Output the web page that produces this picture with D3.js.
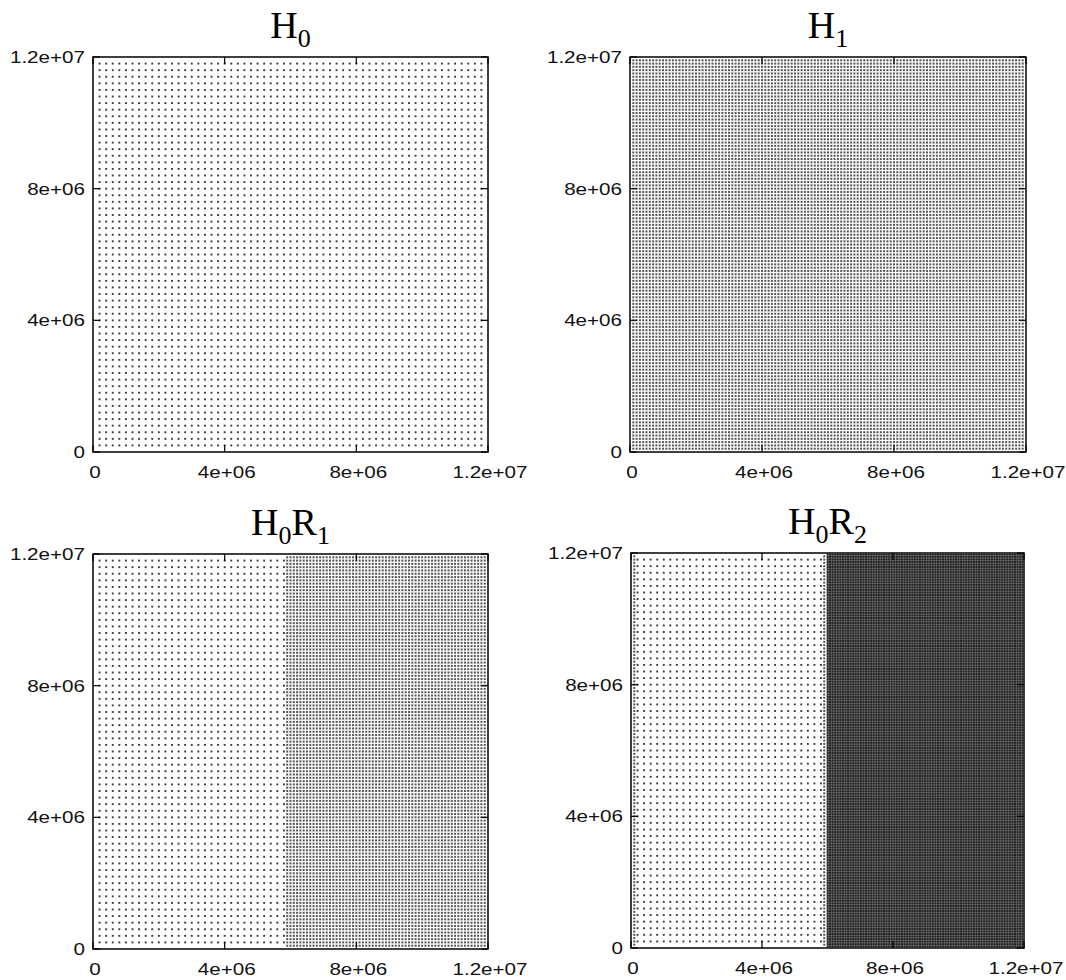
<!DOCTYPE html>
<html lang="en">
<head>
    <meta charset="UTF-8">
    <title>Mesh nodes H0 / H1 / H0R1 / H0R2</title>
    <script src="https://d3js.org/d3.v7.min.js"></script>
    <style>
        body { margin: 0; background: #fff; }
        svg { display: block; }
        .tick-label { font-family: "Liberation Sans", Arial, sans-serif; font-size: 16.5px; fill: #111; }
        .title { font-family: "Liberation Serif", "Times New Roman", serif; fill: #000; }
        .frame { fill: none; stroke: #000; stroke-width: 1.5px; }
        .tick { stroke: #000; stroke-width: 1.2px; }
    </style>
</head>
<body>
<svg id="chart" width="1066" height="980"></svg>
<script>
    // axis domain and ticks (same for x and y in every panel)
    const domain = [0, 1.2e7];
    const tickValues = [0, 4e6, 8e6, 1.2e7];
    const tickLabels = ["0", "4e+06", "8e+06", "1.2e+07"];

    // titles: [base, subscript] pairs
    const titles = [
        [["H", "0"]],
        [["H", "1"]],
        [["H", "0"], ["R", "1"]],
        [["H", "0"], ["R", "2"]]
    ];

    // node blocks: columns x0..x1 every dx, rows dy..(12e6-dy) every dy
    const h0Blocks = [
        { x0: 2e5, x1: 1.18e7, dx: 2e5, dy: 2e5 }
    ];
    const h1Blocks = [
        { x0: 1e5, x1: 1.19e7, dx: 1e5, dy: 1e5 }
    ];
    const h0r1Blocks = [
        { x0: 2e5, x1: 5.8e6, dx: 2e5, dy: 2e5 },
        { x0: 5.9e6, x1: 1.19e7, dx: 1e5, dy: 1e5 }
    ];
    const h0r2Blocks = [
        { x0: 5e4, x1: 5e4, dx: 1e5, dy: 1e5 },
        { x0: 2e5, x1: 5.8e6, dx: 2e5, dy: 2e5 },
        { x0: 5.9e6, x1: 5.9e6, dx: 1e5, dy: 1e5 },
        { x0: 6e6, x1: 1.195e7, dx: 5e4, dy: 5e4 }
    ];
    const panelBlocks = [h0Blocks, h1Blocks, h0r1Blocks, h0r2Blocks];

    // panel frames in pixels
    const frames = [
        { left: 93, top: 57, right: 488, bottom: 452 },
        { left: 630, top: 57, right: 1026, bottom: 452 },
        { left: 93, top: 554, right: 488, bottom: 949 },
        { left: 631, top: 553, right: 1024, bottom: 948 }
    ];

    // dot look by spacing
    function dotStyle(step) {
        if (step >= 2e5) return { size: 1.9, fill: "#3a3a3a" };
        if (step >= 1e5) return { size: 2.0, fill: "#555" };
        return { size: 1.65, fill: "#1e1e1e" };
    }

    function nodes(block) {
        const pts = [];
        const cols = d3.range(Math.round(block.x0 / block.dx), Math.round(block.x1 / block.dx) + 1)
            .map(i => i * block.dx);
        const rows = d3.range(1, Math.round(domain[1] / block.dy)).map(j => j * block.dy);
        cols.forEach(x => rows.forEach(y => pts.push({ x, y, step: block.dy })));
        return pts;
    }

    const svg = d3.select("#chart");
    const sx = 1.25; // gnuplot output is stretched horizontally

    frames.forEach((f, p) => {
        const x = d3.scaleLinear().domain(domain).range([f.left, f.right]);
        const y = d3.scaleLinear().domain(domain).range([f.bottom, f.top]);
        const g = svg.append("g");

        g.append("clipPath").attr("id", "clip" + p)
            .append("rect")
            .attr("x", f.left).attr("y", f.top)
            .attr("width", f.right - f.left).attr("height", f.bottom - f.top);

        // mesh nodes
        const pts = panelBlocks[p].flatMap(nodes);
        g.append("g").attr("clip-path", `url(#clip${p})`)
            .selectAll("rect")
            .data(pts)
            .join("rect")
            .attr("x", d => x(d.x) - dotStyle(d.step).size / 2)
            .attr("y", d => y(d.y) - dotStyle(d.step).size / 2)
            .attr("width", d => dotStyle(d.step).size)
            .attr("height", d => dotStyle(d.step).size)
            .attr("fill", d => dotStyle(d.step).fill);

        // frame
        g.append("rect").attr("class", "frame")
            .attr("x", f.left).attr("y", f.top)
            .attr("width", f.right - f.left).attr("height", f.bottom - f.top);

        // inward ticks on all four sides
        const tl = 7;
        tickValues.forEach(v => {
            g.append("line").attr("class", "tick")
                .attr("x1", x(v)).attr("x2", x(v)).attr("y1", f.bottom).attr("y2", f.bottom - tl);
            g.append("line").attr("class", "tick")
                .attr("x1", x(v)).attr("x2", x(v)).attr("y1", f.top).attr("y2", f.top + tl);
            g.append("line").attr("class", "tick")
                .attr("y1", y(v)).attr("y2", y(v)).attr("x1", f.left).attr("x2", f.left + tl);
            g.append("line").attr("class", "tick")
                .attr("y1", y(v)).attr("y2", y(v)).attr("x1", f.right).attr("x2", f.right - tl);
        });

        // tick labels
        tickValues.forEach((v, i) => {
            g.append("text").attr("class", "tick-label")
                .attr("text-anchor", "end")
                .attr("transform", `translate(${f.left - 8},${y(v) + 6}) scale(${sx},1)`)
                .text(tickLabels[i]);
            g.append("text").attr("class", "tick-label")
                .attr("text-anchor", "middle")
                .attr("transform", `translate(${x(v) + 2},${f.bottom + 26}) scale(${sx},1)`)
                .text(tickLabels[i]);
        });

        // title with subscripts
        const t = g.append("text").attr("class", "title")
            .attr("text-anchor", "middle")
            .attr("x", (f.left + f.right) / 2)
            .attr("y", f.top - 19);
        titles[p].forEach(([base, sub], k) => {
            t.append("tspan").attr("font-size", 38).attr("dy", k === 0 ? 0 : -9).text(base);
            t.append("tspan").attr("font-size", 26).attr("dy", 9).text(sub);
        });
    });
</script>
</body>
</html>
